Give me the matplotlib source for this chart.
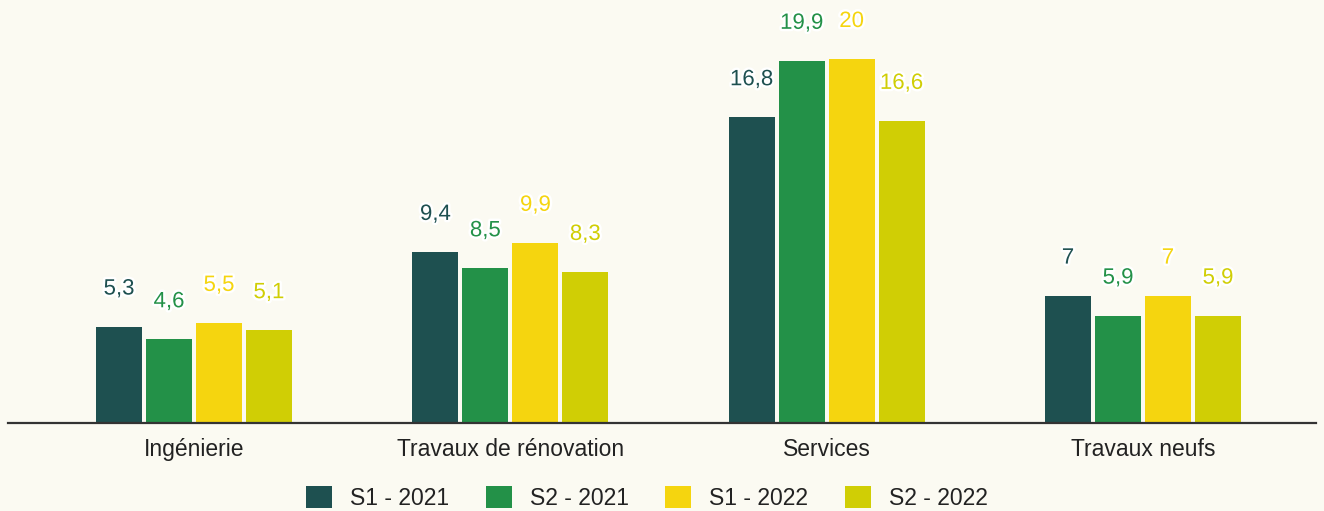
import matplotlib.pyplot as plt
import matplotlib.patheffects as pe
import numpy as np

categories = ["Ingénierie", "Travaux de rénovation", "Services", "Travaux neufs"]
series_names = ["S1 - 2021", "S2 - 2021", "S1 - 2022", "S2 - 2022"]
s1_2021 = [5.3, 9.4, 16.8, 7.0]
s2_2021 = [4.6, 8.5, 19.9, 5.9]
s1_2022 = [5.5, 9.9, 20.0, 7.0]
s2_2022 = [5.1, 8.3, 16.6, 5.9]

colors = ["#1e5050", "#239148", "#f5d50f", "#d0ce05"]
bg = "#fbfaf2"

plt.rcParams['font.family'] = ['Liberation Sans', 'DejaVu Sans']

fig = plt.figure(figsize=(13.24, 5.11), dpi=100, facecolor=bg)
ax = fig.add_axes([8 / 1324, 88 / 511, 1308 / 1324, 423 / 511])
ax.set_facecolor(bg)

x = np.arange(len(categories))
step = 0.158
width = 0.145

def fmt(v):
    s = ("%.1f" % v).rstrip("0").rstrip(".")
    return s.replace(".", ",")

for i, vals in enumerate([s1_2021, s2_2021, s1_2022, s2_2022]):
    pos = x + (i - 1.5) * step
    ax.bar(pos, vals, width=width, color=colors[i], label=series_names[i])
    for p, v in zip(pos, vals):
        ax.annotate(fmt(v), (p, v), xytext=(0, 27), textcoords="offset points",
                    ha="center", va="center", fontsize=16, color=colors[i],
                    path_effects=[pe.withStroke(linewidth=3.5, foreground="white")])

ax.set_xlim(-0.588, 3.547)
ax.set_ylim(0, 423 / 18.2)
ax.set_xticks(x)
ax.set_xticklabels(categories, fontsize=16.5, color="#222222")
ax.tick_params(axis="x", length=0, pad=11)
ax.set_yticks([])
for s in ["top", "right", "left"]:
    ax.spines[s].set_visible(False)
ax.spines["bottom"].set_color("#333333")
ax.spines["bottom"].set_linewidth(1.6)

fig.legend(loc="center", bbox_to_anchor=(0.4887, 0.026), ncol=4, frameon=False,
           fontsize=16.5, handlelength=1.13, handleheight=1.13, columnspacing=1.6,
           handletextpad=0.79, labelcolor="#222222", borderpad=0)

fig.savefig("out.png", dpi=100, facecolor=bg)
